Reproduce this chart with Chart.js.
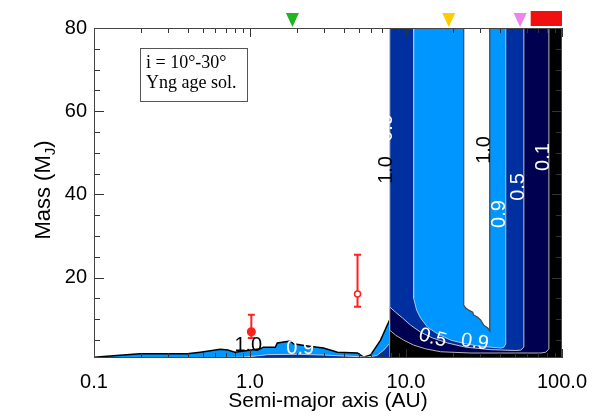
<!DOCTYPE html>
<html>
<head>
<meta charset="utf-8">
<script src="https://cdn.jsdelivr.net/npm/chart.js@4.4.0/dist/chart.umd.min.js"></script>
<style>
    body { margin: 0; background: #ffffff; }
    #wrap { width: 610px; height: 416px; }
</style>
</head>
<body>
<div id="wrap"><canvas id="grafico" width="610" height="416"></canvas></div>
<script>
const SANS = '"Liberation Sans", Arial, sans-serif';
const SERIF = '"Liberation Serif", "Times New Roman", serif';

// axis ticks
const xTickLabels = [0.1, 1, 10, 100];
const yTickLabels = [20, 40, 60, 80];

// inner region (a < 8 AU): 1.0 and 0.9 contours
const esqA10 = [0.1, 0.154, 0.197, 0.396, 0.48, 0.645, 0.72, 0.8, 1.165, 1.217, 1.454, 1.497, 1.815, 1.897, 2.333, 2.957, 3.637, 4.889, 5.343, 5.925, 6.869, 7.73, 7.85];
const esqM10 = [0.9, 1.4, 1.7, 1.7, 2.1, 2.8, 2.6, 2.1, 2.9, 3.3, 3.3, 4.3, 4.8, 4.1, 3.6, 3.1, 2.1, 1.9, 0.9, 1.4, 5.0, 9.3, 9.8];
const esqA09 = [0.1, 0.3, 0.6, 0.9, 1.1, 1.3, 2.0, 3.0, 4.5, 5.6, 6.5, 7.2, 7.85];
const esqM09 = [0.75, 0.75, 0.8, 0.9, 1.2, 1.5, 1.6, 1.4, 1.1, 0.9, 1.3, 2.6, 4.2];

// outer region (a > 8 AU): contours 0.1, 0.5, 0.9, 1.0
const dirA00 = [7.85, 7.85, 100];
const dirM00 = [0.7, 80, 80];
const dirA01 = [7.85, 7.85, 8.575, 9.65, 11.19, 13.36, 16.68, 25.99, 73.18, 78.8, 82.39, 82.39];
const dirM01 = [80, 7.4, 6.2, 5.0, 3.8, 2.9, 2.2, 1.9, 1.9, 2.1, 2.9, 80];
const dirA05 = [7.85, 7.85, 8.575, 9.51, 10.7, 12.41, 14.82, 18.5, 24.14, 34.95, 50.56, 54.46, 56.93, 56.93];
const dirM05 = [80, 13.0, 11.7, 10.3, 8.6, 6.9, 5.5, 4.3, 3.3, 2.7, 2.5, 2.6, 3.3, 80];
const dirA09 = [11.19, 11.19, 11.7, 12.41, 13.76, 15.96, 19.34, 24.14, 30.14, 40.51, 42.36, 43.61, 43.61];
const dirM09 = [80, 15.1, 12.2, 10.3, 8.1, 6.5, 5.0, 4.1, 3.5, 3.1, 3.3, 4.1, 80];
const dirA10 = [23.44, 23.44, 24.14, 25.24, 26.77, 27.18, 28.83, 30.14, 31.51, 33.44, 34.43, 34.43];
const dirM10 = [80, 13.4, 12.7, 12.2, 11.7, 11.0, 10.5, 9.8, 8.6, 7.9, 7.2, 80];

// measured companions
const objA = [1.02, 4.89];
const objM = [7.0, 16.1];
const objMin = [5.5, 13.0];
const objMax = [11.1, 25.5];
const objAberto = [false, true];

// markers above the frame
const marcaA = [1.87, 18.8, 53.9];
const marcaCor = ["#22b422", "#ffcc00", "#ee82ee"];
const faixaA = [63, 100];

// contour labels
const rotTexto = ["1.0", "0.9", "1.0", "0.9", "0.5", "0.1", "0.5", "0.9", "1.0", "0.9"];
const rotA = [7.51, 7.45, 31.98, 39.9, 52.9, 76.5, 14.82, 27.58, 0.975, 2.10];
const rotM = [45.9, 56.0, 50.7, 35.3, 41.8, 49.0, 5.5, 4.5, 3.6, 2.9];
const rotAng = [-90, -90, -90, -90, -90, -90, 15, 8, 0, 0];
const rotCor = ["#000", "#fff", "#000", "#fff", "#fff", "#fff", "#fff", "#fff", "#000", "#fff"];

const pts = (xs, ys) => xs.map((x, i) => ({ x: x, y: ys[i] }));

const isDecade = (v) => Math.abs(Math.log10(v) - Math.round(Math.log10(v))) < 1e-6;

function contorno(xs, ys, cor, linha, largura, fill, ordem) {
    return {
        data: pts(xs, ys),
        backgroundColor: cor,
        borderColor: linha,
        borderWidth: largura,
        pointRadius: 0,
        fill: fill,
        order: ordem
    };
}

const moldura = {
    id: "moldura",

    beforeDatasetsDraw(chart) {
        const ctx = chart.ctx;
        const x = chart.scales.x;
        const y = chart.scales.y;
        ctx.save();
        ctx.strokeStyle = "#ff2020";
        ctx.lineWidth = 2;
        objA.forEach((a, i) => {
            const px = x.getPixelForValue(a);
            const top = y.getPixelForValue(objMax[i]);
            const bot = y.getPixelForValue(objMin[i]);
            ctx.beginPath();
            ctx.moveTo(px, top); ctx.lineTo(px, bot);
            ctx.moveTo(px - 3.5, top); ctx.lineTo(px + 3.5, top);
            ctx.moveTo(px - 3.5, bot); ctx.lineTo(px + 3.5, bot);
            ctx.stroke();
        });
        ctx.restore();
    },

    afterDatasetsDraw(chart) {
        const ctx = chart.ctx;
        const x = chart.scales.x;
        const y = chart.scales.y;
        const area = chart.chartArea;

        // contour labels
        ctx.save();
        ctx.beginPath();
        ctx.rect(area.left, area.top, area.right - area.left, area.bottom - area.top);
        ctx.clip();
        ctx.font = "20px " + SANS;
        ctx.textAlign = "center";
        ctx.textBaseline = "middle";
        rotTexto.forEach((t, i) => {
            ctx.save();
            ctx.translate(x.getPixelForValue(rotA[i]), y.getPixelForValue(rotM[i]));
            ctx.rotate(rotAng[i] * Math.PI / 180);
            ctx.fillStyle = rotCor[i];
            ctx.fillText(t, 0, 0);
            ctx.restore();
        });
        ctx.restore();

        // inward ticks and frame
        ctx.save();
        ctx.strokeStyle = "#333";
        ctx.lineWidth = 1;
        ctx.beginPath();
        x.ticks.forEach((t) => {
            const px = Math.round(x.getPixelForValue(t.value)) + 0.5;
            const len = isDecade(t.value) ? 9 : 5;
            ctx.moveTo(px, area.bottom); ctx.lineTo(px, area.bottom - len);
            ctx.moveTo(px, area.top); ctx.lineTo(px, area.top + len);
        });
        y.ticks.forEach((t) => {
            const py = Math.round(y.getPixelForValue(t.value)) + 0.5;
            const len = t.value % 20 === 0 ? 10 : 6;
            ctx.moveTo(area.left, py); ctx.lineTo(area.left + len, py);
            ctx.moveTo(area.right, py); ctx.lineTo(area.right - len, py);
        });
        ctx.stroke();
        ctx.strokeStyle = "#444";
        ctx.strokeRect(Math.round(area.left) + 0.5, Math.round(area.top) + 0.5,
            Math.round(area.right - area.left) - 1, Math.round(area.bottom - area.top) - 1);

        // info box
        ctx.fillStyle = "#fff";
        ctx.fillRect(140, 48, 108, 54);
        ctx.strokeStyle = "#555";
        ctx.strokeRect(140.5, 48.5, 107, 53);
        ctx.fillStyle = "#000";
        ctx.font = "18px " + SERIF;
        ctx.textAlign = "left";
        ctx.textBaseline = "alphabetic";
        ctx.fillText("i = 10°-30°", 146, 68);
        ctx.fillText("Yng age sol.", 146, 88);

        // markers above the top axis
        marcaA.forEach((a, i) => {
            const px = x.getPixelForValue(a);
            ctx.fillStyle = marcaCor[i];
            ctx.beginPath();
            ctx.moveTo(px - 6.5, 13);
            ctx.lineTo(px + 6.5, 13);
            ctx.lineTo(px, 27);
            ctx.closePath();
            ctx.fill();
        });
        ctx.fillStyle = "#f01010";
        const f0 = x.getPixelForValue(faixaA[0]);
        const f1 = x.getPixelForValue(faixaA[1]);
        ctx.fillRect(f0, 11, f1 - f0, 15);

        // axis titles
        ctx.fillStyle = "#000";
        ctx.font = "21px " + SANS;
        ctx.textAlign = "center";
        ctx.fillText("Semi-major axis (AU)", (area.left + area.right) / 2, 407);

        ctx.translate(50, 190);
        ctx.rotate(-Math.PI / 2);
        ctx.textAlign = "left";
        const big = "22px " + SANS;
        const small = "15px " + SANS;
        ctx.font = big;
        const w1 = ctx.measureText("Mass (M").width;
        const w3 = ctx.measureText(")").width;
        ctx.font = small;
        const w2 = ctx.measureText("J").width;
        let cx = -(w1 + w2 + w3) / 2;
        ctx.font = big;
        ctx.fillText("Mass (M", cx, 0);
        cx += w1;
        ctx.font = small;
        ctx.fillText("J", cx, 5);
        cx += w2;
        ctx.font = big;
        ctx.fillText(")", cx, 0);
        ctx.restore();
    }
};

document.addEventListener("DOMContentLoaded", function () {

    const canvas = document.getElementById("grafico");

    new Chart(canvas, {

        type: "line",

        data: {
            datasets: [
                contorno(esqA10, esqM10, "#0096ff", "#000000", 1.5, "start", 20),
                contorno(esqA09, esqM09, "#0030a0", "#c8c8c8", 1, "start", 19),
                contorno(dirA00, dirM00, "#000000", "#888888", 1, "start", 18),
                contorno(dirA01, dirM01, "#000050", "#b4b4b4", 1, "end", 17),
                contorno(dirA05, dirM05, "#0030a0", "#c0c4d0", 1, "end", 16),
                contorno(dirA09, dirM09, "#0096ff", "#a8c8e0", 1, "end", 15),
                contorno(dirA10, dirM10, "#ffffff", "#444444", 1.2, "end", 14),
                {
                    data: pts(objA, objM),
                    showLine: false,
                    pointRadius: objAberto.map((o) => o ? 3 : 3.8),
                    pointBackgroundColor: objAberto.map((o) => o ? "#ffffff" : "#ff2020"),
                    pointBorderColor: "#ff2020",
                    pointBorderWidth: 1.5,
                    order: 0
                }
            ]
        },

        options: {
            responsive: false,
            devicePixelRatio: 1,
            animation: false,
            layout: {
                padding: { top: 28, right: 48, left: 0, bottom: 0 }
            },
            plugins: {
                legend: { display: false },
                tooltip: { enabled: false }
            },
            scales: {
                x: {
                    type: "logarithmic",
                    min: 0.1,
                    max: 100,
                    grid: { display: false, drawTicks: false },
                    border: { display: false },
                    afterBuildTicks: (scale) => {
                        const t = [];
                        for (let d = 0.1; d < 100; d *= 10) {
                            for (let k = 1; k < 10; k++) {
                                t.push({ value: +(d * k).toPrecision(3) });
                            }
                        }
                        t.push({ value: 100 });
                        scale.ticks = t;
                    },
                    afterFit: (scale) => { scale.height = 58; },
                    ticks: {
                        autoSkip: false,
                        maxRotation: 0,
                        padding: 12,
                        color: "#000",
                        font: { family: SANS, size: 20 },
                        callback: (v) => xTickLabels.some((l) => Math.abs(l - v) < 1e-6) ? v.toFixed(1) : ""
                    }
                },
                y: {
                    min: 0.7,
                    max: 80,
                    grid: { display: false, drawTicks: false },
                    border: { display: false },
                    afterBuildTicks: (scale) => {
                        const t = [];
                        for (let v = 5; v <= 80; v += 5) {
                            t.push({ value: v });
                        }
                        scale.ticks = t;
                    },
                    afterFit: (scale) => { scale.width = 94; },
                    ticks: {
                        autoSkip: false,
                        padding: 7,
                        color: "#000",
                        font: { family: SANS, size: 20 },
                        callback: (v) => yTickLabels.includes(v) ? String(v) : ""
                    }
                }
            }
        },

        plugins: [moldura]

    });

});
</script>
</body>
</html>
